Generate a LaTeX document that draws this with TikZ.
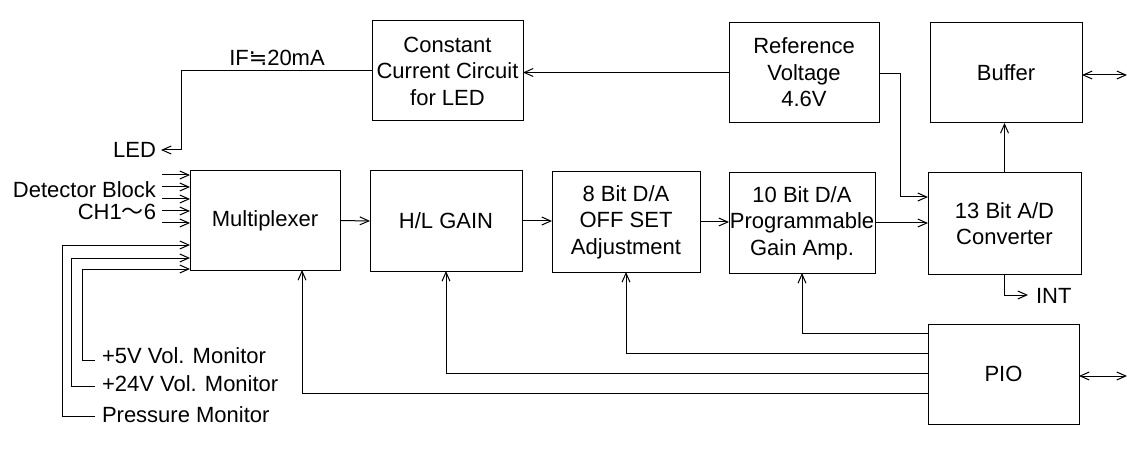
\documentclass[tikz,border=0pt]{standalone}
\usepackage{fontspec}
\setmainfont{Liberation Sans}
\newfontfamily\cjk{Noto Sans CJK SC}
\newfontfamily\dejavu{DejaVu Sans}
\usetikzlibrary{arrows.meta}
\begin{document}
\begin{tikzpicture}[x=1pt,y=-1pt,
  blk/.style={draw,line width=1pt,inner sep=0pt,outer sep=0pt,align=center,
    minimum width=151pt,minimum height=100pt,font=\fontsize{22}{26.5}\selectfont},
  lbl/.style={inner sep=0pt,outer sep=0pt,font=\fontsize{22}{26.5}\selectfont},
  wire/.style={line width=1pt},
  arr/.style={wire,-{Straight Barb[length=9pt,width=8pt]}},
  darr/.style={wire,{Straight Barb[length=9pt,width=8pt]}-{Straight Barb[length=9pt,width=8pt]}}]
\useasboundingbox (0,0) rectangle (1127,457);

% blocks
\node[blk] (cc) at (447.5,71) {Constant\\Current Circuit\\for LED};
\node[blk,minimum width=150pt] (ref) at (804,72.5) {Reference\\Voltage\\4.6V};
\node[blk,minimum width=152pt] (buf) at (1006,73) {Buffer};
\node[blk,minimum width=150pt,minimum height=99pt] (mux) at (265,220.5) {Multiplexer};
\node[blk,minimum width=152pt] (hl) at (446,221) {H/L GAIN};
\node[blk,minimum width=148pt] (da8) at (626,222) {8 Bit D/A\\OFF SET\\Adjustment};
\node[blk,minimum width=146pt] (da10) at (802,223) {10 Bit D/A\\Programmable\\Gain Amp.};
\node[blk,minimum width=153pt,minimum height=101pt] (ad) at (1004.5,223.5) {13 Bit A/D\\Converter};
\node[blk] (pio) at (1003.5,374) {PIO};

% labels
\node[lbl] (if) at (277,58) {IF{\dejavu ≒}20mA};
\node[lbl,anchor=east] (led) at (156,150) {LED};
\node[lbl,anchor=east] (det) at (156,190) {Detector Block};
\node[lbl,anchor=east] (ch) at (156,212) {CH1{\cjk ～}6};
\node[lbl,anchor=west] (m5) at (102,356) {+5V Vol. Monitor};
\node[lbl,anchor=west] (m24) at (102,384) {+24V Vol. Monitor};
\node[lbl,anchor=west] (mp) at (102,415) {Pressure Monitor};
\node[lbl,anchor=west] (int) at (1036,296) {INT};

% free ends
\coordinate (bufR) at (1127,75);
\coordinate (pioR) at (1127,376);
\coordinate (ledT) at (161,150);
\coordinate (intT) at (1028,295);
\coordinate (s5) at (95,360);
\coordinate (s24) at (95,386);
\coordinate (sp) at (95,416);

% top row
\draw[arr] (ref.west) -- (ref.west -| cc.east);
\draw[arr] (cc.west) -- (181,71) -- (181,150) -- (ledT);
\draw[arr] (ref.east |- {(0,74)}) -- (900,74) -- (900,197) -- (ad.west |- {(0,197)});
\draw[arr] (ad.north) -- (ad.north |- buf.south);
\draw[darr] (buf.east |- bufR) -- (bufR);

% middle row
\draw[arr] (mux.east) -- (hl.west);
\draw[arr] (hl.east) -- (hl.east -| da8.west);
\draw[arr] (da8.east) -- (da8.east -| da10.west);
\draw[arr] (da10.east) -- (da10.east -| ad.west);
\draw[arr] (ad.south) -- (ad.south |- intT) -- (intT);

% detector inputs
\foreach \yy [count=\i] in {175,187,199,211,223}{
  \coordinate (in\i) at (162,\yy);
  \draw[arr] (in\i) -- (mux.west |- in\i);
}

% monitors
\draw[arr] (s5) -- (82,360) -- (82,269) -- (mux.west |- {(0,269)});
\draw[arr] (s24) -- (71,386) -- (71,258) -- (mux.west |- {(0,258)});
\draw[arr] (sp) -- (62,416) -- (62,245) -- (mux.west |- {(0,245)});

% PIO control lines
\draw[arr] (pio.west |- {(0,333)}) -| (da10.south);
\draw[arr] (pio.west |- {(0,353)}) -| (da8.south);
\draw[arr] (pio.west |- {(0,373)}) -| (hl.south);
\draw[arr] (pio.west |- {(0,393)}) -| ([xshift=37pt]mux.south);
\draw[darr] (pio.east |- pioR) -- (pioR);
\end{tikzpicture}
\end{document}
